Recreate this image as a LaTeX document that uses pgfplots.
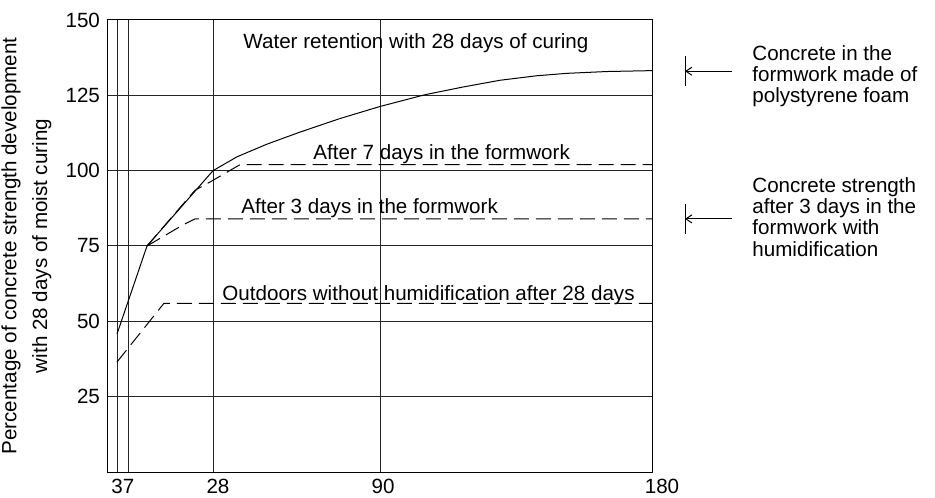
\documentclass[border=0pt]{standalone}
\usepackage{fontspec}
\setmainfont{Liberation Sans}
\usepackage{pgfplots}
\pgfplotsset{compat=1.18}
\usetikzlibrary{arrows.meta}

\begin{document}
\begin{tikzpicture}[font=\fontsize{10.3}{12.4}\selectfont]
\path[use as bounding box] (-53.5pt,-12.5pt) rectangle (414pt,236pt);
\begin{axis}[
  at={(0,0)}, anchor=south west,
  scale only axis, width=272.5pt, height=226pt,
  xmin=0, xmax=545, ymin=0, ymax=150,
  xtick={10,21.5,106,273,545},
  xticklabels={3,7,\hspace*{5pt}28,\hspace*{3pt}90,\hspace*{10pt}180},
  ytick={25,50,75,100,125,150},
  grid=major, grid style={black!85, line width=0.5pt},
  major tick length=0pt,
  axis line style={black, line width=0.5pt},
  /pgf/number format/assume math mode=true,
  ticklabel style={font=\fontsize{10.3}{12}\selectfont},
  ylabel={Percentage of concrete strength development\\[3pt]with 28 days of moist curing},
  ylabel style={align=center, at={(axis description cs:-0.1477,0.5)}, anchor=center},
  clip=false,
  every node/.append style={inner xsep=0pt},
]
% Water retention with 28 days of curing (solid)
\addplot[black, line width=0.5pt] coordinates {
 (10,45.8) (40,75) (106,100) (130,104.6) (160,108.8) (193,112.8) (233,117.3)
 (273,121.3) (318,125.2) (355,127.7) (393,130.0) (430,131.5) (460,132.3)
 (500,132.9) (545,133.2)};
% After 7 days in the formwork
\addplot[black, line width=0.5pt, dash pattern=on 7.5pt off 3.5pt] coordinates {
 (40,75) (88,93.5) (106,96.8) (133,102) (545,102)};
% After 3 days in the formwork
\addplot[black, line width=0.5pt, dash pattern=on 7.5pt off 3.5pt] coordinates {
 (40,75) (76,82) (88,84) (545,84)};
% Outdoors without humidification after 28 days
\addplot[black, line width=0.5pt, dash pattern=on 7.5pt off 3.5pt] coordinates {
 (10,36.5) (57,56) (545,56)};

\node[anchor=base west, inner xsep=0pt] at (axis cs:136,140.4) {Water retention with 28 days of curing};
\node[anchor=base west, inner xsep=0pt] at (axis cs:206,103.6) {After 7 days in the formwork};
\node[anchor=base west, inner xsep=0pt] at (axis cs:134,85.8) {After 3 days in the formwork};
\node[anchor=base west, inner xsep=0pt] at (axis cs:115,56.8) {Outdoors without humidification after 28 days};

\draw[line width=0.5pt] (axis cs:578,128) -- (axis cs:578,138);
\draw[line width=0.5pt, {Straight Barb[length=3pt,width=4pt]}-] (axis cs:578,133) -- (axis cs:625,133);
\draw[line width=0.5pt] (axis cs:578,79) -- (axis cs:578,89);
\draw[line width=0.5pt, {Straight Barb[length=3pt,width=4pt]}-] (axis cs:578,84) -- (axis cs:625,84);

\node[anchor=base west, inner xsep=0pt] at (axis cs:645,136.7) {Concrete in the};
\node[anchor=base west, inner xsep=0pt] at (axis cs:645,129.6) {formwork made of};
\node[anchor=base west, inner xsep=0pt] at (axis cs:645,122.5) {polystyrene foam};

\node[anchor=base west, inner xsep=0pt] at (axis cs:645,92.9) {Concrete strength};
\node[anchor=base west, inner xsep=0pt] at (axis cs:645,85.8) {after 3 days in the};
\node[anchor=base west, inner xsep=0pt] at (axis cs:645,78.7) {formwork with};
\node[anchor=base west, inner xsep=0pt] at (axis cs:645,71.5) {humidification};
\end{axis}
\end{tikzpicture}
\end{document}
